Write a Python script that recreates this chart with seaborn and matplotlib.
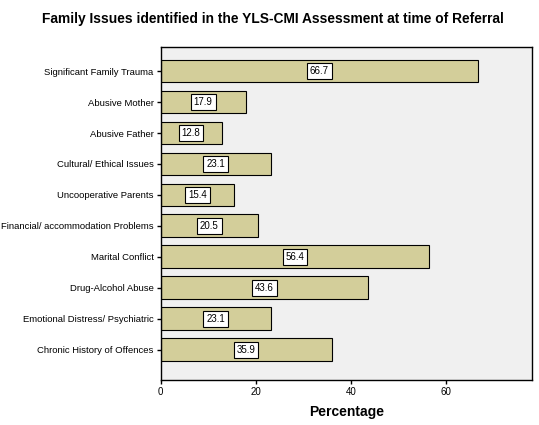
import seaborn as sns
import matplotlib.pyplot as plt
import pandas as pd

# Data
issues = ['Significant Family Trauma', 'Abusive Mother', 'Abusive Father',
          'Cultural/ Ethical Issues', 'Uncooperative Parents',
          'Financial/ accommodation Problems', 'Marital Conflict',
          'Drug-Alcohol Abuse', 'Emotional Distress/ Psychiatric',
          'Chronic History of Offences']
percentages = [66.7, 17.9, 12.8, 23.1, 15.4, 20.5, 56.4, 43.6, 23.1, 35.9]
x_ticks = [0, 20, 40, 60]

df = pd.DataFrame({'Issue': issues, 'Percentage': percentages})

sns.set_style('ticks')
plt.rcParams['font.family'] = ['Liberation Sans', 'DejaVu Sans']
plt.rcParams['text.color'] = 'black'
plt.rcParams['axes.labelcolor'] = 'black'

fig = plt.figure(figsize=(5.39, 4.25), dpi=100)
ax = fig.add_axes([0.298, 0.106, 0.689, 0.783])
ax.set_facecolor('#f0f0f0')

sns.barplot(data=df, x='Percentage', y='Issue', orient='h', color='#d3ce9a',
            saturation=1, width=0.74, edgecolor='black', linewidth=0.8, ax=ax)

# value labels in white boxes at bar middle
for i, v in enumerate(percentages):
    ax.text(v / 2, i, f'{v:.1f}', ha='center', va='center', fontsize=7,
            bbox=dict(boxstyle='square,pad=0.3', facecolor='white',
                      edgecolor='black', linewidth=0.8))

ax.set_xlim(0, 78)
ax.set_ylim(9.97, -0.77)
ax.set_xticks(x_ticks)
ax.tick_params(axis='y', labelsize=6.8, length=3, width=1, colors='black', pad=2)
ax.tick_params(axis='x', labelsize=7, length=3, width=1, colors='black', pad=2)
ax.set_xlabel('Percentage', fontsize=10, fontweight='bold', labelpad=6)
ax.set_ylabel('')
for side in ['top', 'right', 'left', 'bottom']:
    ax.spines[side].set_visible(True)
    ax.spines[side].set_color('black')
    ax.spines[side].set_linewidth(1)

fig.text(0.078, 0.955, 'Family Issues identified in the YLS-CMI Assessment at time of Referral',
         fontsize=9.9, fontweight='bold', ha='left', va='center')

fig.savefig('out.png', dpi=100)
